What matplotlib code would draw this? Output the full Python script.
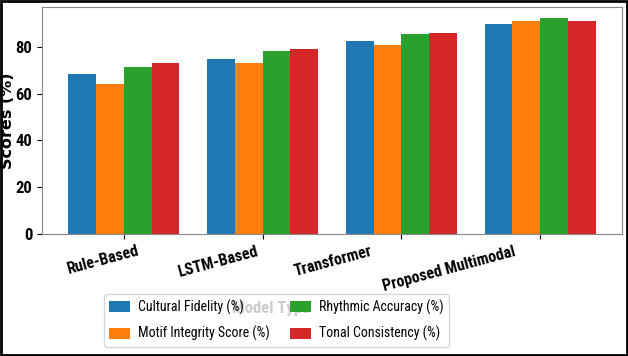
import matplotlib
matplotlib.use("Agg")
import matplotlib.pyplot as plt
import matplotlib.transforms as mtrans
import numpy as np
from matplotlib import font_manager
from matplotlib.patches import Rectangle

categories = ["Rule-Based", "LSTM-Based", "Transformer", "Proposed Multimodal"]
series_names = ["Cultural Fidelity (%)", "Motif Integrity Score (%)",
                "Rhythmic Accuracy (%)", "Tonal Consistency (%)"]
cultural_fidelity = [68.3, 75.0, 82.4, 89.7]
motif_integrity = [64.0, 73.0, 80.7, 91.3]
rhythmic_accuracy = [71.6, 78.4, 85.6, 92.5]
tonal_consistency = [73.2, 79.0, 86.1, 91.0]
series_values = [cultural_fidelity, motif_integrity, rhythmic_accuracy, tonal_consistency]
colors = ["#1f77b4", "#ff7f0e", "#2ca02c", "#d62728"]

def pick(cands):
    for c in cands:
        try:
            font_manager.findfont(font_manager.FontProperties(family=c), fallback_to_default=False)
            return c
        except Exception:
            pass
    return "DejaVu Sans"

narrow = pick(["Roboto Condensed", "DejaVu Sans Condensed", "Liberation Sans Narrow", "Liberation Sans"])
plt.rcParams['font.family'] = [narrow, 'DejaVu Sans']

fig = plt.figure(figsize=(6.28, 3.56), dpi=100)
ax = fig.add_axes([42/628, 1-234/356, 580/628, 227/356])

x = np.arange(len(categories))
w = 0.2
for i, (name, vals) in enumerate(zip(series_names, series_values)):
    ax.bar(x + (i - 1.5) * w, vals, w, label=name, color=colors[i])

ax.set_ylim(0, 97.1)
ax.set_xticks(x)
ax.set_xticklabels(categories, rotation=15, fontweight='bold', fontsize=11.5)
# shift tick labels (pixels) to match reference placement
shifts = [-21, -45, -68, -91]
for lab, dx in zip(ax.get_xticklabels(), shifts):
    lab.set_transform(lab.get_transform() + mtrans.Affine2D().translate(dx, 0))
ax.set_yticks([0, 20, 40, 60, 80])
for lab in ax.get_yticklabels():
    lab.set_fontweight('bold')
    lab.set_fontsize(12)
ax.set_ylabel("Scores (%)", fontweight='bold', fontsize=11.5, family='DejaVu Sans')
ax.yaxis.set_label_coords(-0.047, 0.5)
ax.set_xlabel("Model Type", fontweight='bold', fontsize=12)
ax.xaxis.set_label_coords(0.395, -0.295)
for s in ax.spines.values():
    s.set_color('#888888')

leg = ax.legend(loc='center', bbox_to_anchor=(276.5/628, 1-320.5/356),
                bbox_transform=fig.transFigure, ncol=2, fontsize=10,
                handlelength=1.5, handleheight=0.85, handletextpad=0.55,
                columnspacing=1.5, labelspacing=0.8)

fig.patches.append(Rectangle((0.0015, 0.003), 0.997, 0.994, transform=fig.transFigure,
                             fill=False, edgecolor='black', linewidth=2))
fig.savefig("out.png", dpi=100)
